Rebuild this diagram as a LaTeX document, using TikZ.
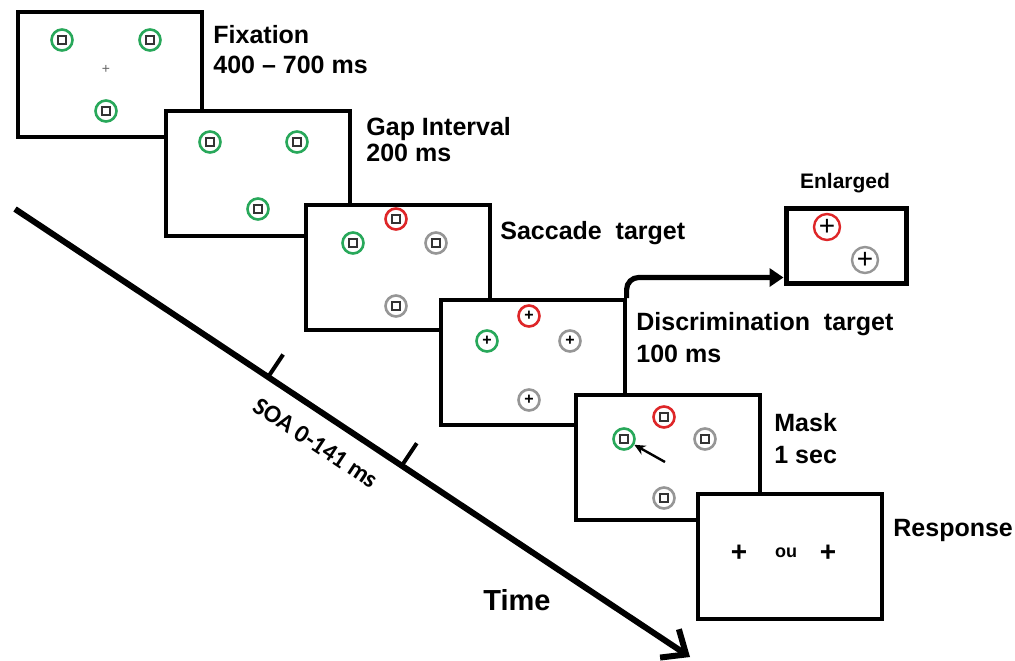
\documentclass[tikz,border=0pt]{standalone}
\usepackage{fontspec}
\setmainfont{Liberation Sans}
\newfontfamily\soafont{Carlito}
\usetikzlibrary{arrows.meta,calc}

\definecolor{ringgreen}{RGB}{40,168,90}
\definecolor{ringred}{RGB}{222,38,40}
\definecolor{ringgray}{RGB}{150,150,150}

\tikzset{
  screen/.style={draw,line width=1.8pt,fill=white,anchor=north west,
    minimum width=92pt,minimum height=62.5pt,inner sep=0pt},
  lbl/.style={anchor=west,align=left,inner sep=0pt,
    font=\bfseries\fontsize{12.5}{14.5}\selectfont},
  ring/.style={circle,draw=#1,line width=1.3pt,minimum size=10.5pt,inner sep=0pt},
  sq/.style={draw=black!80,line width=0.8pt,minimum size=4pt,inner sep=0pt},
  pics/ringsq/.style={code={\node[ring=#1] (-r) {}; \node[sq] {};}},
  pics/ringpl/.style={code={\node[ring=#1] (-r) {};
    \node[inner sep=0pt,font=\bfseries\fontsize{8}{8}\selectfont] {+};}},
}

\begin{document}
\begin{tikzpicture}[x=0.5pt,y=-0.5pt]
  \useasboundingbox (0,0) rectangle (1015,660);
  % time axis
  \coordinate (t0) at (15,209);
  \coordinate (t1) at (690,657);
  \draw[line width=3pt,-{Straight Barb[length=10pt,width=17pt]}] (t0) -- (t1);
  \draw[line width=2pt] ($(t0)!0.375!(t1)$) -- ++(15,-22.5);
  \draw[line width=2pt] ($(t0)!0.573!(t1)$) -- ++(15,-22.5);
  \node[rotate=-33.6,inner sep=0pt,font=\soafont\bfseries\fontsize{12.5}{12.5}\selectfont]
    (soa) at (316,443) {SOA 0-141 ms};
  \node[inner sep=0pt,font=\bfseries\fontsize{14.5}{14.5}\selectfont] (time) at (517,600) {Time};

  % fixation
  \node[screen] (fix) at (16,10) {};
  \foreach \x/\y in {62/40,150/40,106/111}
    \pic at (\x,\y) {ringsq=ringgreen};
  \node[inner sep=0pt,text=black!60,font=\fontsize{7}{7}\selectfont] (fixcross) at (106,69) {+};
  \node[lbl] (fixlbl) at (213,50) {Fixation\\[0.5pt]400 \textendash{} 700 ms};

  % gap
  \node[screen] (gap) at (164,109) {};
  \foreach \x/\y in {210/142,297/142,258/209}
    \pic at (\x,\y) {ringsq=ringgreen};
  \node[lbl] (gaplbl) at (366,140) {Gap Interval\\[-1.5pt]200 ms};

  % saccade target
  \node[screen] (sac) at (304,203) {};
  \pic at (396,219) {ringsq=ringred};
  \pic at (353,243) {ringsq=ringgreen};
  \pic at (436,243) {ringsq=ringgray};
  \pic at (396,306) {ringsq=ringgray};
  \node[lbl] (saclbl) at (500,233) {Saccade\ \ target};

  % discrimination target
  \node[screen] (disc) at (439,298) {};
  \pic at (529,316) {ringpl=ringred};
  \pic at (487,341) {ringpl=ringgreen};
  \pic at (570,341) {ringpl=ringgray};
  \pic at (529,400) {ringpl=ringgray};
  \node[lbl] (disclbl) at (636,338) {Discrimination\ \ target\\[1.5pt]100 ms};

  % mask
  \node[screen] (mask) at (574,393) {};
  \pic at (664,417) {ringsq=ringred};
  \pic (mg) at (624,439) {ringsq=ringgreen};
  \pic at (705,439) {ringsq=ringgray};
  \pic at (664,498) {ringsq=ringgray};
  \coordinate (mstart) at (665,462);
  \draw[line width=1.2pt,-{Stealth[length=5.5pt,width=5pt]}] (mstart) -- (mg-r);
  \node[lbl] (masklbl) at (774,439) {Mask\\[1.5pt]1 sec};

  % response
  \node[screen] (resp) at (696,492) {};
  \node[inner sep=0pt,font=\bfseries\fontsize{14}{14}\selectfont] (rl) at (739,553) {+};
  \node[inner sep=0pt,font=\bfseries\fontsize{9}{9}\selectfont] (ou) at (786,553) {ou};
  \node[inner sep=0pt,font=\bfseries\fontsize{14}{14}\selectfont] (rr) at (828,553) {+};
  \node[lbl] (resplbl) at (893,530) {Response};

  % enlarged
  \node[draw,line width=2.5pt,fill=white,anchor=north west,minimum width=60pt,
    minimum height=37.5pt,inner sep=0pt] (enl) at (783.5,205.5) {};
  \node[circle,draw=ringred,line width=1.2pt,minimum size=13pt,inner sep=0pt,
    font=\fontsize{14}{14}\selectfont] (enr) at (827,227) {+};
  \node[circle,draw=ringgray,line width=1.2pt,minimum size=13pt,inner sep=0pt,
    font=\fontsize{14}{14}\selectfont] (eng) at (865,260) {+};
  \node[inner sep=0pt,font=\bfseries\fontsize{10.5}{10.5}\selectfont] (enllbl) at (845,183) {Enlarged};
  \draw[line width=2.6pt,rounded corners=6pt,-{Triangle[length=7pt,width=9pt]}]
    (disc.north east) |- ($(enl.west)+(0,32)$);
\end{tikzpicture}
\end{document}
